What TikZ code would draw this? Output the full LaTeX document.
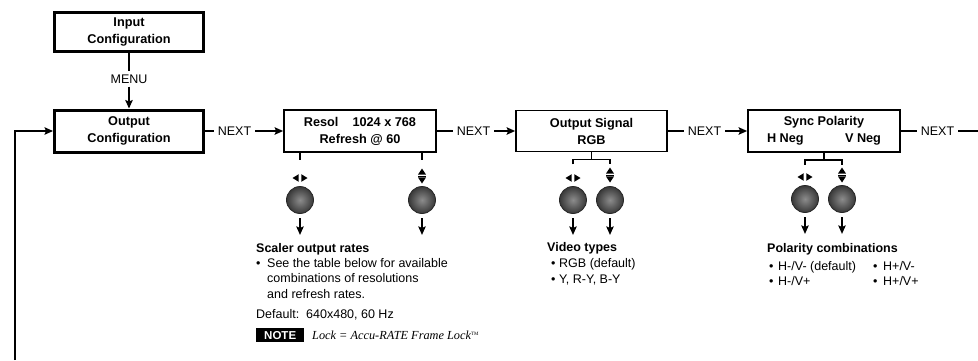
\documentclass[tikz,border=0pt]{standalone}
\usepackage{fontspec}
\setmainfont{Liberation Sans}
\newfontfamily\notefont{Liberation Serif}
\usetikzlibrary{arrows.meta,calc}
\begin{document}
\begin{tikzpicture}[x=1pt,y=1pt,
  font=\fontsize{12.5}{15.5}\selectfont,
  boxfont/.style={font=\fontsize{12.7}{17}\selectfont\bfseries},
  thickbox/.style={draw, line width=3pt, minimum width=149pt, align=center, inner sep=0pt, boxfont},
  thinbox/.style={draw, line width=1.8pt, minimum width=152pt, minimum height=42pt, align=center, inner sep=0pt, boxfont},
  conn/.style={line width=1.4pt},
  arr/.style={conn, -{Stealth[length=8.5pt,width=7.5pt,inset=1.5pt]}},
  nextlbl/.style={inner sep=4pt},
  knob/.style={circle, minimum size=27pt, inner sep=0pt, draw=black!85, line width=0.8pt, inner color=black!45, outer color=black!78},
  txt/.style={anchor=base west, inner sep=0pt},
  hd/.style={txt, font=\fontsize{12.5}{15}\selectfont\bfseries},
  pics/lrsym/.style={code={
    \fill (-7.5,0) -- (-1.3,3.8) -- (-1.3,-3.8) -- cycle;
    \fill (7.5,0) -- (1.3,3.8) -- (1.3,-3.8) -- cycle;}},
  pics/udsym/.style={code={
    \fill (0,7.5) -- (-4,1.4) -- (4,1.4) -- cycle;
    \fill (0,-7.5) -- (-4,-1.4) -- (4,-1.4) -- cycle;
    \draw[line width=0.7pt] (-4,0) -- (4,0);}},
]
\useasboundingbox (0,0) rectangle (978,-360);

% main boxes
\node[thickbox, minimum height=39pt] (inp) at (129,-32) {Input\\Configuration};
\node[thickbox, minimum height=42pt] (outc) at (129,-131) {Output\\Configuration};
\node[thinbox] (resol) at (360,-131) {Resol\hspace{14pt}1024 x 768\\Refresh @ 60};
\node[thinbox, minimum width=151pt, minimum height=41pt] (sig) at (591.5,-131) {Output Signal\\RGB};
\node[thinbox] (sync) at (824,-131) {Sync Polarity\\\makebox[114pt]{H Neg\hfill V Neg}};

% MENU
\node[inner sep=3pt] (menu) at (129,-79) {MENU};
\draw[conn] (inp.south) -- (menu.north);
\draw[arr] (menu.south) -- (outc.north);

% NEXT chain
\node[nextlbl] (n1) at (234.5,-131) {NEXT};
\node[nextlbl] (n2) at (473.5,-131) {NEXT};
\node[nextlbl] (n3) at (704.5,-131) {NEXT};
\node[nextlbl] (n4) at (937.5,-131) {NEXT};
\coordinate (rend) at (978,-131);
\draw[conn] (outc.east) -- (n1.west);
\draw[arr] (n1.east) -- (resol.west);
\draw[conn] (resol.east) -- (n2.west);
\draw[arr] (n2.east) -- (sig.west);
\draw[conn] (sig.east) -- (n3.west);
\draw[arr] (n3.east) -- (sync.west);
\draw[conn] (sync.east) -- (n4.west);
\draw[conn] (n4.east) -- (rend);

% loop back
\coordinate (loopb) at (15,-360);
\draw[arr] (loopb) |- (outc.west);

% knobs
\node[knob] (k1) at (300,-200) {};
\node[knob] (k2) at (422,-200) {};
\node[knob] (k3) at (573,-200) {};
\node[knob] (k4) at (610,-200) {};
\node[knob] (k5) at (805,-199) {};
\node[knob] (k6) at (842,-199) {};
\foreach \k in {k1,k2,k3,k4,k5,k6}{
  \draw[arr] ([yshift=-4.5pt]\k.south) -- ++(0,-16.5);
}

% symbols
\pic at (300,-178) {lrsym};
\pic at (422,-176) {udsym};
\pic at (573,-178) {lrsym};
\pic at (610,-175) {udsym};
\pic at (805,-177) {lrsym};
\pic at (842,-175) {udsym};

% ticks and brackets
\draw[conn] (resol.south -| k1) -- ++(0,-7);
\draw[conn] (resol.south -| k2) -- ++(0,-7);
\draw[conn] (sig.south) -- ++(0,-7) coordinate (sigbr);
\draw[conn] ([yshift=-5pt]sigbr -| k3) -- (sigbr -| k3) -- (sigbr -| k4) -- ++(0,-5);
\draw[conn] (sync.south) -- ++(0,-7) coordinate (syncbr);
\draw[conn] ([yshift=-5pt]syncbr -| k5) -- (syncbr -| k5) -- (syncbr -| k6) -- ++(0,-5);

% Scaler output rates
\node[hd] (schd) at (256,-252) {Scaler output rates};
\node[txt] (sc1) at (256,-267) {\makebox[11pt][l]{\textbullet}See the table below for available};
\node[txt] (sc2) at (267,-282.5) {combinations of resolutions};
\node[txt] (sc3) at (267,-298) {and refresh rates.};
\node[txt] (scdef) at (256,-318) {Default:\ \ 640x480, 60 Hz};
\node[fill=black, text=white, font=\fontsize{11.5}{12}\selectfont\bfseries, minimum width=48pt, minimum height=14pt, inner sep=0pt, anchor=north west] (notebox) at (256,-328) {NOTE};
\node[txt, font=\notefont\itshape\fontsize{12.3}{14}\selectfont] (notetxt) at (312,-339.5) {Lock = Accu-RATE Frame Lock\textsuperscript{\upshape\tiny TM}};

% Video types
\node[hd] (vthd) at (547,-251) {Video types};
\node[txt] (vt1) at (551,-267) {\makebox[8pt][l]{\textbullet}RGB (default)};
\node[txt] (vt2) at (551,-283) {\makebox[8pt][l]{\textbullet}Y, R-Y, B-Y};

% Polarity combinations
\node[hd] (pchd) at (767,-252) {Polarity combinations};
\node[txt] (pc1) at (769,-270) {\makebox[9pt][l]{\textbullet}H-/V- (default)};
\node[txt] (pc2) at (769,-285) {\makebox[9pt][l]{\textbullet}H-/V+};
\node[txt] (pc3) at (873,-270) {\makebox[10pt][l]{\textbullet}H+/V-};
\node[txt] (pc4) at (873,-285) {\makebox[10pt][l]{\textbullet}H+/V+};
\end{tikzpicture}
\end{document}
